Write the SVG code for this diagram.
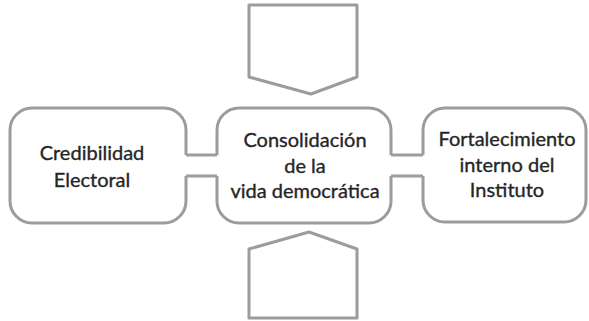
<svg xmlns="http://www.w3.org/2000/svg" width="589" height="321" viewBox="0 0 589 321">
<style>
.sh{fill:none;stroke:#9c9c9c;stroke-width:3;stroke-linejoin:round;stroke-linecap:butt}
.t{font-family:Lato,"Open Sans","DejaVu Sans",sans-serif;font-size:20px;fill:#262626;stroke:#262626;stroke-width:0.35;text-anchor:middle}
</style>
<rect width="589" height="321" fill="#ffffff"/>
<g id="top-pentagon"><path class="sh" d="M249,5 H357 V77 L311,94 L249,77 Z"/></g>
<g id="bottom-pentagon"><path class="sh" d="M249,249 L309,232 L357,249 V318 H249 Z"/></g>
<g id="credibilidad">
<path class="sh" d="M186,176 V201 A22,22 0 0 1 164,223 H32 A22,22 0 0 1 10,201 V130 A22,22 0 0 1 32,108 H164 A22,22 0 0 1 186,130 V155"/>
<text class="t" x="92" y="160">Credibilidad</text>
<text class="t" x="92" y="187">Electoral</text>
</g>
<g id="consolidacion">
<path class="sh" d="M217,176 V201 A22,22 0 0 0 239,223 H369 A22,22 0 0 0 391,201 V176 M391,155 V130 A22,22 0 0 0 369,108 H239 A22,22 0 0 0 217,130 V155"/>
<text class="t" x="305" y="147">Consolidación</text>
<text class="t" x="305" y="173">de la</text>
<text class="t" x="305" y="198">vida democrática</text>
</g>
<g id="fortalecimiento">
<path class="sh" d="M423,176 V200 A22,22 0 0 0 445,222 H564 A22,22 0 0 0 586,200 V130 A22,22 0 0 0 564,108 H445 A22,22 0 0 0 423,130 V155"/>
<text class="t" x="507" y="146">Fortalecimiento</text>
<text class="t" x="507" y="172">interno del</text>
<text class="t" x="507" y="197">Instituto</text>
</g>
<g id="connectors">
<path class="sh" d="M186,155 H217 M186,176 H217"/>
<path class="sh" d="M391,155 H423 M391,176 H423"/>
</g>
</svg>
